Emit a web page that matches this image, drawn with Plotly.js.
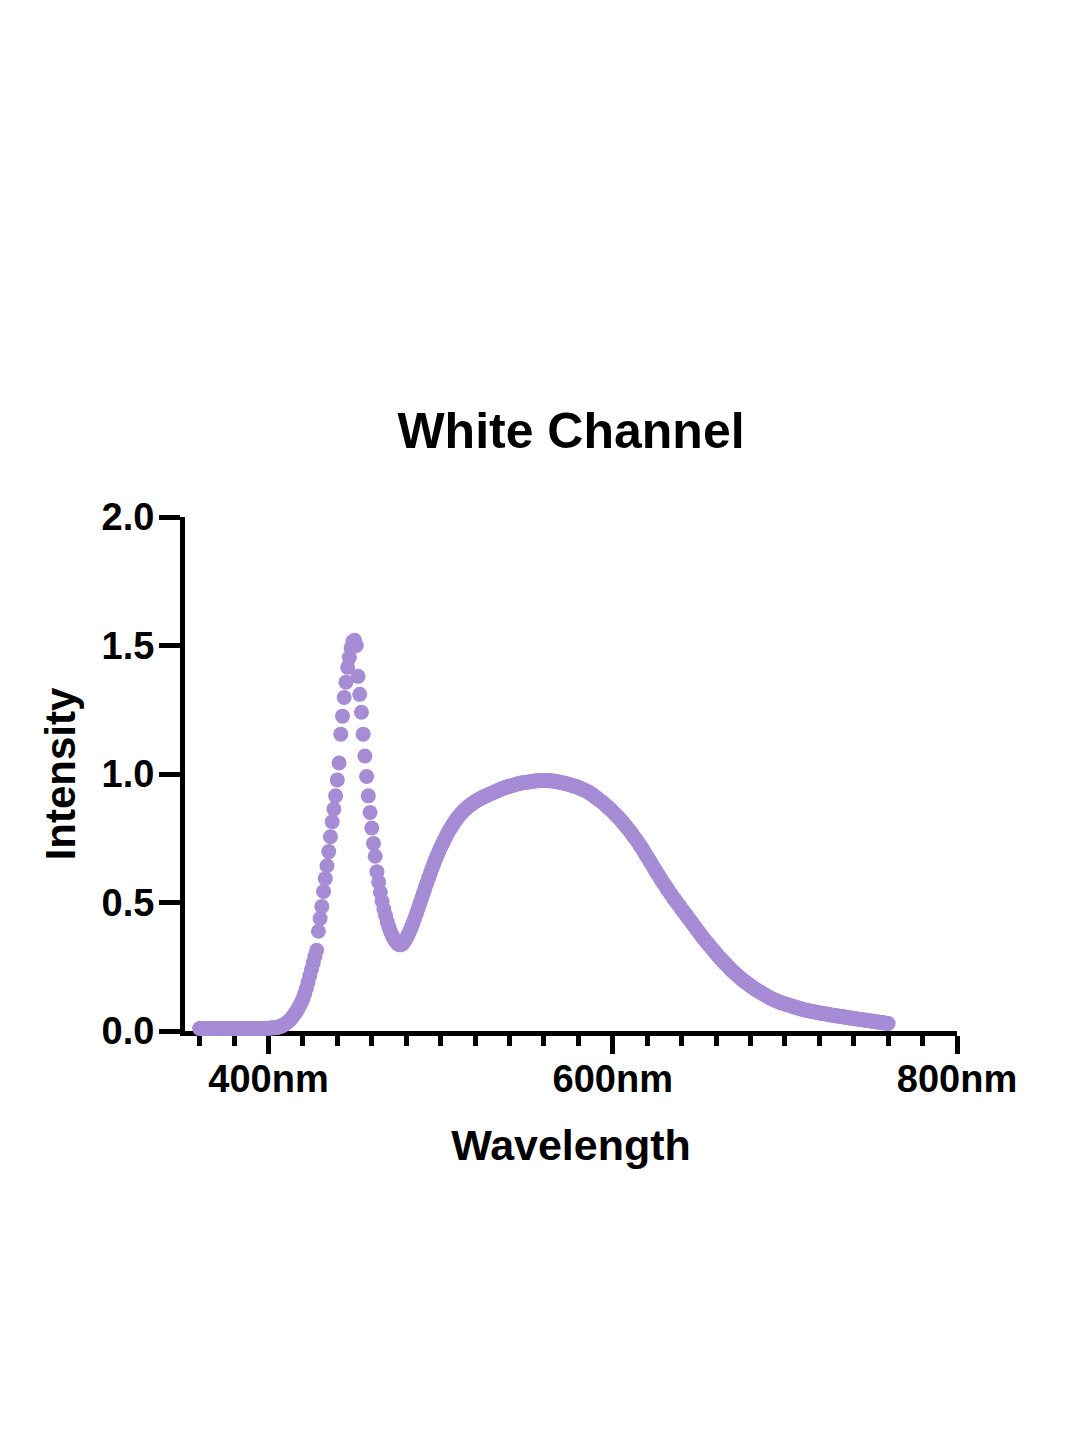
<!DOCTYPE html>
<html>
<head>
<meta charset="utf-8">
<script src="https://cdn.plot.ly/plotly-3.0.1.min.js"></script>
<style>html,body{margin:0;padding:0;background:#fff;}#chart{width:1080px;height:1440px;}</style>
</head>
<body>
<div id="chart"></div>
<script>
// Wavelength grid: 1 nm steps from 360 nm to 760 nm
const startNm = 360;
const stepNm = 1;

// Intensity values, 10 per row (360..760 nm)
const intensity360to419 = [
  0.010, 0.010, 0.010, 0.010, 0.010, 0.010, 0.010, 0.010, 0.010, 0.010,
  0.010, 0.010, 0.010, 0.010, 0.010, 0.010, 0.010, 0.010, 0.010, 0.010,
  0.010, 0.010, 0.010, 0.010, 0.010, 0.010, 0.010, 0.010, 0.010, 0.010,
  0.010, 0.010, 0.010, 0.010, 0.010, 0.010, 0.010, 0.010, 0.011, 0.011,
  0.011, 0.012, 0.012, 0.013, 0.013, 0.014, 0.016, 0.018, 0.021, 0.025,
  0.029, 0.034, 0.040, 0.047, 0.055, 0.064, 0.074, 0.085, 0.097, 0.110
];
const intensity420to479 = [
  0.125, 0.145, 0.165, 0.190, 0.215, 0.240, 0.265, 0.290, 0.314, 0.388,
  0.438, 0.484, 0.543, 0.593, 0.643, 0.698, 0.756, 0.814, 0.864, 0.915,
  0.977, 1.043, 1.155, 1.225, 1.298, 1.357, 1.415, 1.453, 1.490, 1.515,
  1.520, 1.500, 1.380, 1.310, 1.240, 1.155, 1.070, 0.990, 0.915, 0.850,
  0.790, 0.730, 0.680, 0.620, 0.580, 0.540, 0.505, 0.475, 0.450, 0.425,
  0.403, 0.385, 0.370, 0.357, 0.347, 0.340, 0.336, 0.336, 0.340, 0.348
];
const intensity480to579 = [
  0.360, 0.373, 0.388, 0.404, 0.421, 0.439, 0.458, 0.477, 0.497, 0.517,
  0.537, 0.557, 0.576, 0.595, 0.614, 0.632, 0.650, 0.667, 0.683, 0.699,
  0.714, 0.728, 0.742, 0.755, 0.768, 0.780, 0.791, 0.802, 0.812, 0.822,
  0.831, 0.839, 0.847, 0.854, 0.861, 0.867, 0.873, 0.878, 0.883, 0.888,
  0.892, 0.896, 0.900, 0.904, 0.908, 0.911, 0.914, 0.917, 0.920, 0.923,
  0.926, 0.929, 0.932, 0.935, 0.938, 0.941, 0.944, 0.946, 0.948, 0.950,
  0.952, 0.954, 0.956, 0.958, 0.960, 0.962, 0.964, 0.965, 0.966, 0.967,
  0.968, 0.969, 0.970, 0.971, 0.972, 0.973, 0.974, 0.974, 0.975, 0.975,
  0.975, 0.975, 0.975, 0.974, 0.974, 0.973, 0.972, 0.971, 0.970, 0.968,
  0.967, 0.965, 0.964, 0.962, 0.960, 0.958, 0.956, 0.954, 0.952, 0.950
];
const intensity580to679 = [
  0.948, 0.945, 0.942, 0.939, 0.936, 0.933, 0.929, 0.925, 0.920, 0.915,
  0.910, 0.905, 0.900, 0.895, 0.890, 0.884, 0.878, 0.872, 0.866, 0.860,
  0.853, 0.846, 0.840, 0.833, 0.826, 0.818, 0.810, 0.802, 0.794, 0.786,
  0.777, 0.768, 0.759, 0.750, 0.741, 0.731, 0.721, 0.711, 0.700, 0.689,
  0.678, 0.667, 0.656, 0.645, 0.634, 0.623, 0.612, 0.602, 0.591, 0.580,
  0.570, 0.560, 0.550, 0.540, 0.530, 0.520, 0.511, 0.502, 0.493, 0.484,
  0.475, 0.466, 0.457, 0.448, 0.439, 0.430, 0.421, 0.412, 0.403, 0.394,
  0.385, 0.376, 0.367, 0.358, 0.350, 0.342, 0.334, 0.326, 0.318, 0.310,
  0.302, 0.294, 0.286, 0.279, 0.272, 0.265, 0.258, 0.251, 0.244, 0.237,
  0.231, 0.225, 0.219, 0.213, 0.207, 0.201, 0.196, 0.191, 0.186, 0.181
];
const intensity680to760 = [
  0.176, 0.171, 0.166, 0.162, 0.158, 0.154, 0.150, 0.146, 0.142, 0.138,
  0.134, 0.130, 0.127, 0.124, 0.121, 0.118, 0.115, 0.112, 0.110, 0.108,
  0.105, 0.103, 0.101, 0.099, 0.097, 0.095, 0.093, 0.091, 0.089, 0.087,
  0.085, 0.083, 0.082, 0.080, 0.079, 0.077, 0.076, 0.075, 0.073, 0.072,
  0.071, 0.069, 0.068, 0.067, 0.066, 0.065, 0.063, 0.062, 0.061, 0.060,
  0.059, 0.058, 0.057, 0.056, 0.055, 0.054, 0.053, 0.052, 0.051, 0.050,
  0.049, 0.048, 0.047, 0.046, 0.045, 0.044, 0.043, 0.042, 0.041, 0.040,
  0.039, 0.038, 0.037, 0.036, 0.035, 0.034, 0.033, 0.032, 0.031, 0.030,
  0.029
];

const xTickVals = [400, 600, 800];
const xTickText = ['400nm', '600nm', '800nm'];
const yTickVals = [0, 0.5, 1.0, 1.5, 2.0];
const yTickText = ['0.0', '0.5', '1.0', '1.5', '2.0'];

const intensity = [].concat(intensity360to419, intensity420to479, intensity480to579, intensity580to679, intensity680to760);
const wavelength = intensity.map((_, i) => startNm + i * stepNm);

const FONT = '"Liberation Sans", Arial, Helvetica, sans-serif';
const DOT = '#a68bd5';

const trace = {
  type: 'scatter',
  mode: 'markers',
  x: wavelength,
  y: intensity,
  marker: {size: 15, color: DOT, line: {width: 0}},
  cliponaxis: false,
  hoverinfo: 'skip'
};

const layout = {
  width: 1080,
  height: 1440,
  paper_bgcolor: '#ffffff',
  plot_bgcolor: '#ffffff',
  showlegend: false,
  margin: {l: 185, r: 123, t: 517, b: 409, pad: 0},
  font: {family: FONT, color: '#000000'},
  title: {
    text: 'White Channel',
    font: {family: FONT, size: 50, weight: 700, color: '#000000'},
    x: 0.5, xref: 'paper', xanchor: 'center',
    y: 1 - 430 / 1440, yref: 'container', yanchor: 'middle'
  },
  xaxis: {
    range: [351.5, 800],
    showgrid: false,
    zeroline: false,
    showline: true,
    linecolor: '#000000',
    linewidth: 5,
    layer: 'below traces',
    ticks: 'outside',
    ticklen: 18,
    tickwidth: 5,
    tickcolor: '#000000',
    tickmode: 'array',
    tickvals: xTickVals,
    ticktext: xTickText,
    ticklabelstandoff: -8,
    tickfont: {family: FONT, size: 38, weight: 700, color: '#000000'},
    minor: {ticks: 'outside', tick0: 0, dtick: 20, ticklen: 10, tickwidth: 5, tickcolor: '#000000', showgrid: false},
    title: {text: 'Wavelength', font: {family: FONT, size: 43, weight: 700, color: '#000000'}, standoff: 33},
    fixedrange: true
  },
  yaxis: {
    range: [0, 2],
    showgrid: false,
    zeroline: false,
    showline: true,
    linecolor: '#000000',
    linewidth: 5,
    layer: 'below traces',
    ticks: 'outside',
    ticklen: 21,
    tickwidth: 5,
    tickcolor: '#000000',
    tickmode: 'array',
    tickvals: yTickVals,
    ticktext: yTickText,
    ticklabelstandoff: -3,
    tickfont: {family: FONT, size: 38, weight: 700, color: '#000000'},
    title: {text: 'Intensity', font: {family: FONT, size: 42, weight: 700, color: '#000000'}, standoff: 14},
    fixedrange: true
  }
};

Plotly.newPlot('chart', [trace], layout, {staticPlot: true, displayModeBar: false});
</script>
</body>
</html>
